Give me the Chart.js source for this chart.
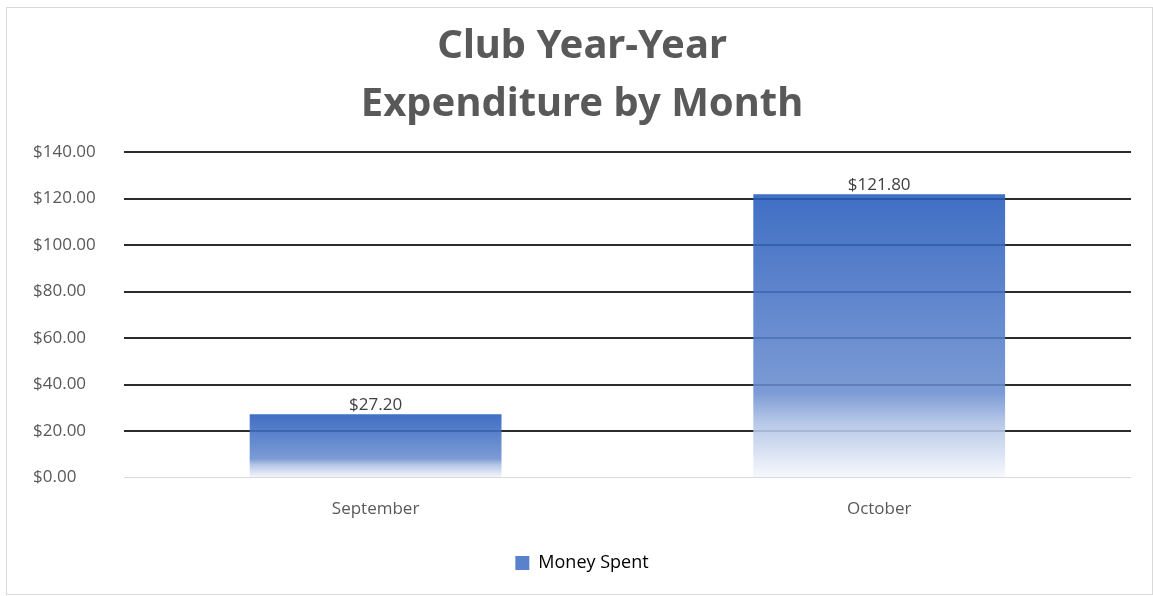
<!DOCTYPE html>
<html>
<head>
<meta charset="utf-8">
<script src="https://cdn.jsdelivr.net/npm/chart.js@4.4.0/dist/chart.umd.min.js"></script>
<style>
    body { margin: 0; background: #ffffff; }
    .marco { position: absolute; left: 6px; top: 7px; width: 1145px; height: 586px; border: 1px solid #d9d9d9; }
    canvas { position: absolute; left: 0; top: 0; }
</style>
</head>
<body>
<div class="marco"></div>
<canvas id="GastosChart" width="1153" height="596"></canvas>
<script>
var meses = ['September', 'October'];
var montoGastado = [27.20, 121.80];
var ticksY = [0, 20, 40, 60, 80, 100, 120, 140];
var tituloLineas = ['Club Year-Year', 'Expenditure by Month'];
var etiquetaSerie = 'Money Spent';

function formatoDinero(v) {
    return '$' + Number(v).toFixed(2);
}

//Degradado de cada barra, de azul arriba a blanco abajo
function colorBarra(context) {
    var chart = context.chart;
    if (!chart.chartArea || context.raw === undefined) {
        return 'rgba(60, 105, 190, 0.88)';
    }
    var y = chart.scales.y;
    var arriba = y.getPixelForValue(context.raw);
    var abajo = y.getPixelForValue(0);
    var g = chart.ctx.createLinearGradient(0, arriba, 0, abajo);
    g.addColorStop(0, 'rgba(38, 91, 188, 0.88)');
    g.addColorStop(0.7, 'rgba(106, 141, 207, 0.88)');
    g.addColorStop(0.8, 'rgba(170, 190, 228, 0.88)');
    g.addColorStop(1, 'rgba(246, 248, 253, 0.88)');
    return g;
}

//Etiquetas de valor sobre las barras
var etiquetasValor = {
    id: 'etiquetasValor',
    afterDatasetsDraw: function (chart) {
        var ctx = chart.ctx;
        var meta = chart.getDatasetMeta(0);
        ctx.save();
        ctx.font = '17px "Open Sans", "Noto Sans", sans-serif';
        ctx.fillStyle = '#404040';
        ctx.textAlign = 'center';
        ctx.textBaseline = 'bottom';
        meta.data.forEach(function (barra, i) {
            ctx.fillText(formatoDinero(montoGastado[i]), barra.x, barra.y - 1);
        });
        ctx.restore();
    }
};

var ctx = document.getElementById('GastosChart').getContext('2d');

var gastosChart = new Chart(ctx, {
    type: 'bar',
    data: {
        labels: meses,
        datasets: [{
            label: etiquetaSerie,
            data: montoGastado,
            backgroundColor: colorBarra,
            borderWidth: 0,
            categoryPercentage: 1.0,
            barPercentage: 0.5
        }]
    },
    options: {
        responsive: false,
        animation: false,
        events: [],
        layout: {
            padding: { left: 33, right: 22, top: 6, bottom: 14 }
        },
        scales: {
            x: {
                grid: { display: false },
                border: { display: false },
                ticks: {
                    color: '#595959',
                    padding: 13,
                    font: { family: '"Open Sans", "Noto Sans", sans-serif', size: 17 }
                }
            },
            y: {
                min: 0,
                max: 140,
                afterBuildTicks: function (scale) {
                    scale.ticks = ticksY.map(function (v) { return { value: v }; });
                },
                grid: {
                    drawTicks: false,
                    color: function (c) { return c.tick && c.tick.value === 0 ? '#d9d9d9' : '#2b2b2b'; },
                    lineWidth: function (c) { return c.tick && c.tick.value === 0 ? 1 : 2; }
                },
                border: { display: false },
                ticks: {
                    color: '#595959',
                    padding: 14,
                    crossAlign: 'far',
                    font: { family: '"Open Sans", "Noto Sans", sans-serif', size: 17 },
                    callback: function (v) { return formatoDinero(v); }
                }
            }
        },
        plugins: {
            title: {
                display: true,
                text: tituloLineas,
                color: '#595959',
                font: { family: '"Noto Sans", sans-serif', size: 40, weight: 'bold', lineHeight: 1.45 },
                padding: { top: 12, bottom: 18 }
            },
            legend: {
                position: 'bottom',
                labels: {
                    color: '#595959',
                    boxWidth: 14,
                    boxHeight: 14,
                    padding: 22,
                    font: { family: '"Open Sans", "Noto Sans", sans-serif', size: 18 },
                    generateLabels: function (chart) {
                        return [{
                            text: etiquetaSerie,
                            fillStyle: '#5a82cc',
                            strokeStyle: '#5a82cc',
                            lineWidth: 0,
                            datasetIndex: 0
                        }];
                    }
                }
            },
            tooltip: { enabled: false }
        }
    },
    plugins: [etiquetasValor]
});
</script>
</body>
</html>
